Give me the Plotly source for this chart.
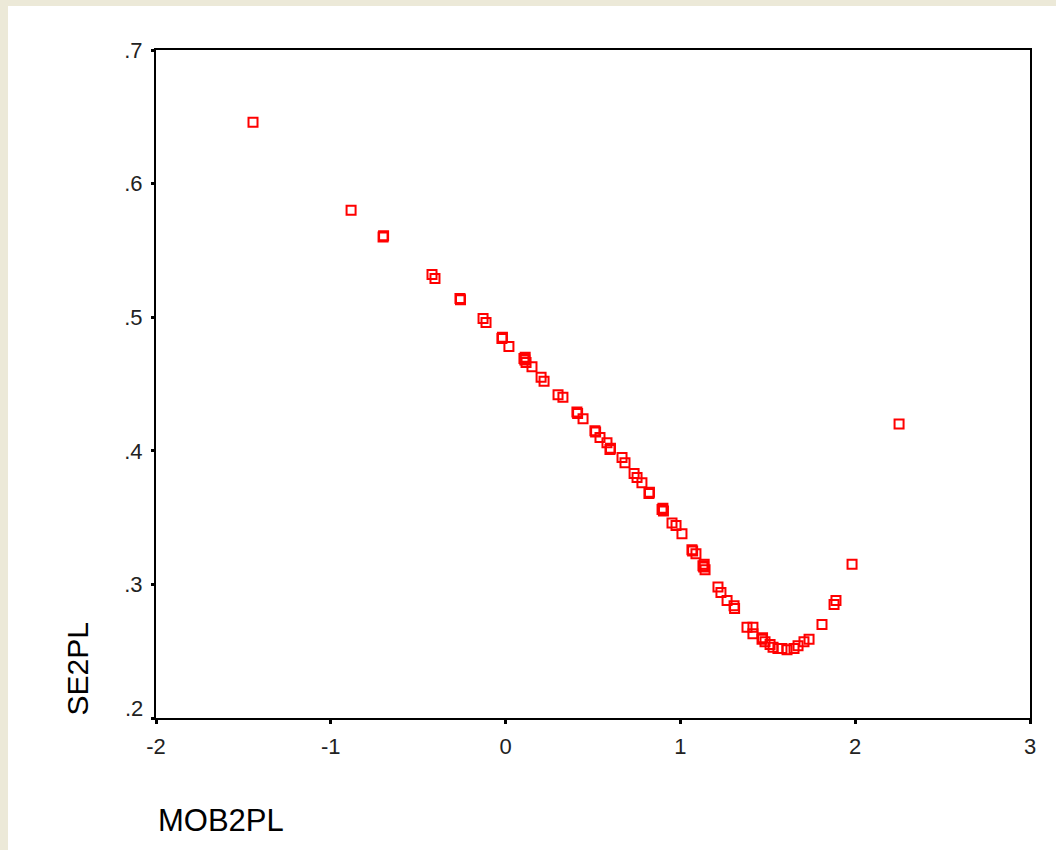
import plotly.graph_objects as go

# Data (MOB2PL vs SE2PL)
mob2pl = [
    -1.445, -0.884, -0.701, -0.698, -0.421, -0.404, -0.261, -0.258,
    -0.129, -0.112, -0.021, -0.018, 0.019, 0.105, 0.110, 0.112, 0.117,
    0.151, 0.203, 0.220, 0.300, 0.328, 0.408, 0.412, 0.443, 0.511, 0.515,
    0.540, 0.580, 0.597, 0.600, 0.666, 0.683, 0.735, 0.752, 0.780, 0.820,
    0.823, 0.895, 0.900, 0.903, 0.952, 0.975, 1.009, 1.066, 1.070, 1.089,
    1.129, 1.133, 1.136, 1.141, 1.215, 1.232, 1.267, 1.307, 1.310, 1.381,
    1.415, 1.415, 1.467, 1.470, 1.484, 1.513, 1.530, 1.558, 1.581, 1.610,
    1.650, 1.673, 1.707, 1.736, 1.810, 1.879, 1.890, 1.982, 2.251,
]
se2pl = [
    0.646, 0.580, 0.560, 0.561, 0.532, 0.529, 0.514, 0.513,
    0.499, 0.496, 0.484, 0.485, 0.478, 0.469, 0.468, 0.470, 0.466,
    0.463, 0.455, 0.452, 0.442, 0.440, 0.429, 0.428, 0.424, 0.415, 0.414,
    0.410, 0.406, 0.401, 0.402, 0.395, 0.391, 0.383, 0.380, 0.376, 0.368,
    0.369, 0.356, 0.357, 0.355, 0.346, 0.344, 0.338, 0.326, 0.325, 0.323,
    0.314, 0.313, 0.315, 0.311, 0.298, 0.294, 0.288, 0.284, 0.282, 0.268,
    0.268, 0.263, 0.259, 0.260, 0.257, 0.255, 0.253, 0.252, 0.252, 0.251,
    0.252, 0.254, 0.257, 0.259, 0.270, 0.285, 0.288, 0.315, 0.420,
]

x_ticks = [-2, -1, 0, 1, 2, 3]
x_tick_labels = ["-2", "-1", "0", "1", "2", "3"]
y_ticks = [0.2, 0.3, 0.4, 0.5, 0.6, 0.7]
y_tick_labels = [".2", ".3", ".4", ".5", ".6", ".7"]

FONT = "Liberation Sans, Arial, sans-serif"
TICKSIZE = 22

fig = go.Figure()
fig.add_trace(go.Scatter(
    x=mob2pl, y=se2pl, mode="markers",
    marker=dict(symbol="square-open", size=9, color="#ff0000",
                line=dict(width=2, color="#ff0000")),
    showlegend=False,
))

# white panel over beige window background
fig.add_shape(type="rect", xref="paper", yref="paper",
              x0=(8 - 156) / 874, x1=1.2, y0=-0.3, y1=(718 - 6) / 668,
              fillcolor="white", line=dict(width=0), layer="below")

fig.update_xaxes(
    range=[-2, 3], tickvals=x_ticks, ticktext=x_tick_labels,
    showgrid=False, zeroline=False,
    showline=True, mirror=True, linecolor="black", linewidth=2,
    ticks="outside", ticklen=4, tickwidth=3, tickcolor="black",
    tickfont=dict(family=FONT, size=TICKSIZE, color="#222"),
    ticklabelstandoff=4,
)
# lowest y label is drawn slightly raised (as in the reference), so it is an annotation
fig.update_yaxes(
    range=[0.2, 0.7], tickvals=y_ticks,
    ticktext=[""] + y_tick_labels[1:],
    showgrid=False, zeroline=False,
    showline=True, mirror=True, linecolor="black", linewidth=2,
    ticks="outside", ticklen=3, tickwidth=3, tickcolor="black",
    tickfont=dict(family=FONT, size=TICKSIZE, color="#222"),
    ticklabelstandoff=4,
)
fig.add_annotation(text=y_tick_labels[0], xref="paper", yref="y",
                   x=0, y=y_ticks[0], xanchor="right", yanchor="middle",
                   xshift=-11, yshift=10, showarrow=False,
                   font=dict(family=FONT, size=TICKSIZE, color="#222"))

fig.add_annotation(text="SE2PL", xref="paper", yref="paper",
                   x=(77 - 156) / 874, y=0, xanchor="center", yanchor="bottom",
                   textangle=-90, showarrow=False,
                   font=dict(family=FONT, size=30, color="black"))
fig.add_annotation(text="MOB2PL", xref="paper", yref="paper",
                   x=0, y=(718 - 820) / 668, xanchor="left", yanchor="middle",
                   showarrow=False,
                   font=dict(family=FONT, size=31, color="black"))

fig.update_layout(
    width=1056, height=850,
    margin=dict(l=156, r=26, t=50, b=132, pad=0),
    paper_bgcolor="#ece9d8", plot_bgcolor="white",
)

fig.write_html("out.html")
